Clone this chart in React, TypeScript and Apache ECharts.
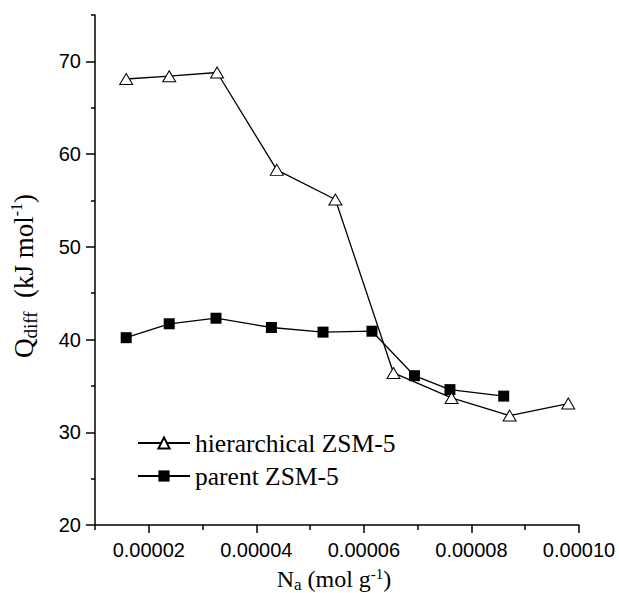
import React, { useEffect, useRef } from 'react';
import * as echarts from 'echarts';

// Differential heat data
const hierX = [0.0000158, 0.0000238, 0.0000327, 0.0000438, 0.0000547, 0.0000655, 0.0000763, 0.0000871, 0.000098];
const hierY = [68.1, 68.4, 68.8, 58.3, 55.1, 36.4, 33.7, 31.8, 33.1];
const parentX = [0.0000158, 0.0000238, 0.0000325, 0.0000428, 0.0000524, 0.0000615, 0.0000694, 0.000076, 0.000086];
const parentY = [40.2, 41.7, 42.3, 41.3, 40.8, 40.9, 36.1, 34.6, 33.9];

const seriesNames = ['hierarchical ZSM-5', 'parent ZSM-5'];
const majorXTicks = [0.00002, 0.00004, 0.00006, 0.00008, 0.0001];
const minorXTicks = [0.00001, 0.00003, 0.00005, 0.00007, 0.00009];
const majorYTicks = [20, 30, 40, 50, 60, 70];
const minorYTicks = [25, 35, 45, 55, 65, 75];

const SERIF = 'Liberation Serif';
const SANS = 'Liberation Sans';

export default function App() {
  const ref = useRef<HTMLDivElement>(null);
  useEffect(() => {
    if (!ref.current) return;
    const chart = echarts.init(ref.current, undefined, { renderer: 'svg' });
    const axisLine = { show: true, lineStyle: { color: '#000', width: 1.5 } };
    const tickStyle = { color: '#000', width: 1.5 };
    const option: any = {
      animation: false,
      backgroundColor: '#fff',
      grid: { left: 95, right: 40, top: 15, bottom: 68, containLabel: false, outerBoundsMode: 'none' },
      legend: {
        orient: 'vertical',
        left: 137,
        top: 430,
        padding: 0,
        itemWidth: 52,
        itemHeight: 14,
        itemGap: 7,
        data: seriesNames,
        textStyle: { fontFamily: SERIF, fontSize: 25.5, color: '#000', lineHeight: 25 },
      },
      xAxis: [
        {
          type: 'value',
          min: 0.00001,
          max: 0.0001,
          position: 'bottom',
          axisLine,
          axisTick: { show: true, customValues: majorXTicks, length: 8, lineStyle: tickStyle },
          axisLabel: {
            customValues: majorXTicks,
            formatter: (v: number) => v.toFixed(5),
            fontFamily: SANS,
            fontSize: 20,
            color: '#000',
            margin: 15,
          },
          splitLine: { show: false },
          name: '{n|N}{sub|a}{n| (mol g}{sup|-1}{n|)}',
          nameLocation: 'middle',
          nameGap: 33,
          nameTextStyle: {
            color: '#000',
            padding: [0, 6, 0, 0],
            rich: {
              n: { fontFamily: SERIF, fontSize: 24, color: '#000', lineHeight: 24 },
              sub: { fontFamily: SERIF, fontSize: 17, color: '#000', lineHeight: 17, padding: [11, 0, 0, 0] },
              sup: { fontFamily: SERIF, fontSize: 15, color: '#000', lineHeight: 15, padding: [0, 0, 9, 0] },
            },
          },
        },
        {
          type: 'value',
          min: 0.00001,
          max: 0.0001,
          position: 'bottom',
          axisLine: { show: false },
          axisTick: { show: true, customValues: minorXTicks, length: 5, lineStyle: tickStyle },
          axisLabel: { show: false },
          splitLine: { show: false },
        },
      ],
      yAxis: [
        {
          type: 'value',
          min: 20,
          max: 75,
          position: 'left',
          axisLine,
          axisTick: { show: true, customValues: majorYTicks, length: 9, lineStyle: tickStyle },
          axisLabel: {
            customValues: majorYTicks,
            fontFamily: SANS,
            fontSize: 20,
            color: '#000',
            margin: 14,
          },
          splitLine: { show: false },
          name: '{n|Q}{sub|diff}{n|  (kJ mol}{sup|-1}{n|)}',
          nameLocation: 'middle',
          nameRotate: 90,
          nameGap: 55,
          nameTextStyle: {
            color: '#000',
            padding: [0, 12, 0, 0],
            rich: {
              n: { fontFamily: SERIF, fontSize: 27, color: '#000', lineHeight: 29 },
              sub: { fontFamily: SERIF, fontSize: 19, color: '#000', padding: [13, 0, 0, 0] },
              sup: { fontFamily: SERIF, fontSize: 16, color: '#000', padding: [0, 0, 15, 0] },
            },
          },
        },
        {
          type: 'value',
          min: 20,
          max: 75,
          position: 'left',
          axisLine: { show: false },
          axisTick: { show: true, customValues: minorYTicks, length: 4, lineStyle: tickStyle },
          axisLabel: { show: false },
          splitLine: { show: false },
        },
      ],
      series: [
        {
          name: seriesNames[0],
          type: 'line',
          xAxisIndex: 0,
          yAxisIndex: 0,
          data: hierX.map((x, i) => [x, hierY[i]]),
          symbol: 'triangle',
          symbolSize: [13, 11],
          lineStyle: { color: '#000', width: 1.3 },
          itemStyle: { color: '#fff', borderColor: '#000', borderWidth: 1 },
          z: 3,
        },
        {
          name: seriesNames[1],
          type: 'line',
          xAxisIndex: 0,
          yAxisIndex: 0,
          data: parentX.map((x, i) => [x, parentY[i]]),
          symbol: 'rect',
          symbolSize: 11,
          lineStyle: { color: '#000', width: 1.3 },
          itemStyle: { color: '#000', borderColor: '#000', borderWidth: 0 },
          z: 2,
        },
      ],
    };
    chart.setOption(option);
    return () => chart.dispose();
  }, []);
  return (
    <div
      ref={ref}
      style={{ position: 'fixed', left: 0, top: 0, width: 619, height: 593, background: '#fff' }}
    />
  );
}
